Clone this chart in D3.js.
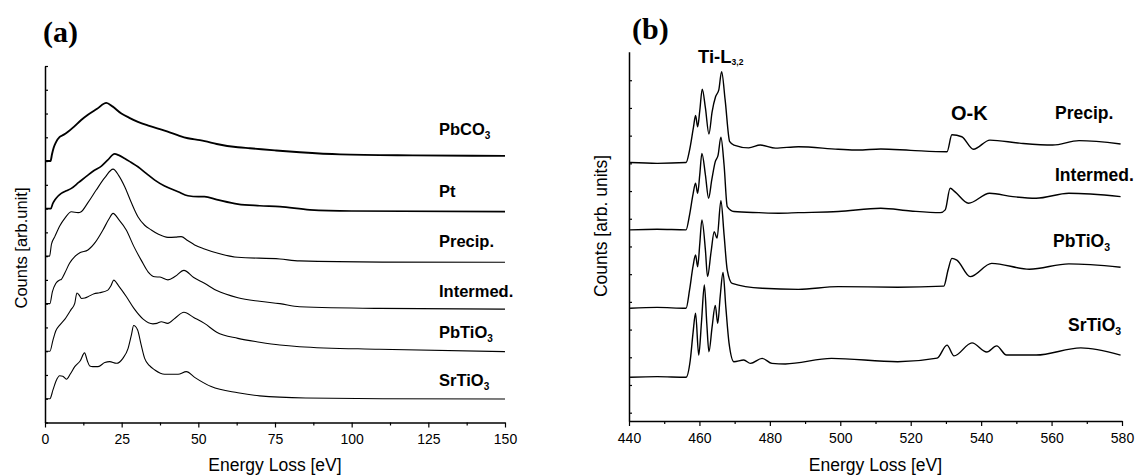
<!DOCTYPE html>
<html>
<head>
<meta charset="utf-8">
<script src="https://cdn.jsdelivr.net/npm/d3@7"></script>
<style>
  body { margin: 0; background: #fff; }
  svg { display: block; }
  text { font-family: "Liberation Sans", Arial, sans-serif; fill: #000; }
</style>
</head>
<body>
<div id="chart"></div>
<script>
// ---- panel (a): low-loss spectra, [energy loss eV, counts (arb., offset)]
const pbco3 = [[0,11.0],[1.8,11.0],[2.3,11.3],[2.8,11.55],[3.6,11.8],[4.8,12.02],[6,12.1],[7.5,12.23],[9.5,12.45],[11.8,12.73],[14,12.95],[17,13.2],[20,13.45],[22,13.3],[24.9,13.0],[27.5,12.82],[30.3,12.65],[34,12.48],[39,12.28],[43,12.1],[46.6,11.96],[50.5,11.88],[52.1,11.84],[56,11.72],[62.9,11.58],[66.8,11.54],[75,11.45],[83.1,11.37],[96.2,11.28],[120,11.24],[150,11.22]];
const pt = [[0,9.0],[1.9,9.0],[2.5,9.2],[3.2,9.36],[4.2,9.52],[5.3,9.64],[7,9.75],[8.6,9.85],[11,10.1],[14,10.41],[16,10.6],[18.4,10.79],[20.5,11.05],[22.7,11.3],[24,11.25],[26,11.11],[28,10.95],[30.3,10.76],[33,10.48],[35.8,10.2],[39,9.95],[43.4,9.71],[46.6,9.54],[50,9.5],[52,9.5],[56,9.38],[62.9,9.19],[70,9.12],[76.6,9.08],[86.4,8.95],[100,8.9],[150,8.87]];
const precip = [[0,7.0],[1.5,7.0],[2.1,7.5],[3.2,7.82],[4.8,8.27],[6.5,8.6],[8.6,8.87],[10.8,8.83],[11.8,8.87],[14,9.25],[16.7,9.78],[19.5,10.3],[22.2,10.66],[24,10.4],[26,9.92],[28,9.3],[30.3,8.66],[32.5,8.3],[34.7,8.1],[37,7.92],[40.1,7.79],[42.5,7.8],[44.4,7.82],[46.5,7.66],[48.8,7.47],[52,7.3],[56.4,7.12],[62.9,6.95],[76.6,6.88],[83,6.8],[110,6.75],[150,6.74]];
const intermed = [[0,5.0],[1.6,5.0],[2.4,5.5],[3.5,5.85],[4.8,6.0],[5.3,6.02],[6.5,6.3],[8,6.7],[9.7,6.98],[11.5,7.15],[14,7.26],[16.5,7.6],[18.9,8.1],[20.8,8.55],[22.2,8.8],[24,8.55],[26.5,8.1],[29,7.4],[31.5,6.8],[33.6,6.34],[35.8,6.13],[37.5,6.12],[40.1,6.0],[42.5,6.15],[45.3,6.4],[48.5,6.1],[52,5.86],[56,5.55],[62.9,5.25],[70,5.1],[76.6,5.0],[83,4.87],[109,4.8],[150,4.77]];
const pbtio3 = [[0,3.0],[1.6,3.0],[2.6,3.47],[3.5,3.85],[4.8,4.1],[6.5,4.35],[8.5,4.75],[9.7,5.01],[10.4,5.45],[11.2,5.35],[11.9,5.22],[13,5.24],[14,5.29],[16,5.42],[17.8,5.46],[20.5,5.57],[21.5,5.75],[22.4,5.99],[24,5.75],[26.5,5.3],[29,4.8],[32,4.35],[35.2,4.15],[36.5,4.17],[37.9,4.24],[40,4.17],[42.5,4.4],[45.3,4.64],[48.5,4.42],[52,4.17],[56,3.8],[62.9,3.54],[70,3.38],[76.6,3.26],[83,3.19],[109,3.08],[150,2.98]];
const srtio3 = [[0,1.0],[1.6,1.0],[2.6,1.37],[3.6,1.75],[4.8,1.97],[5.8,1.95],[7,1.82],[8.3,2.05],[9.7,2.35],[11.5,2.6],[12.9,2.93],[13.8,2.6],[14.6,2.38],[15.6,2.35],[17.3,2.35],[19.5,2.52],[21.1,2.56],[23.3,2.49],[25.4,2.7],[27.1,3.12],[28.2,3.7],[28.9,4.08],[30.2,3.89],[31.3,3.3],[32.5,2.7],[34,2.4],[35.8,2.21],[39,2.03],[43.4,2.03],[46.1,2.14],[48.8,1.9],[54.2,1.51],[62.9,1.25],[70,1.12],[85,1.03],[110,1.0],[150,0.99]];

const seriesA = [pbco3, pt, precip, intermed, pbtio3, srtio3];
const namesA = [["PbCO", "3"], ["Pt", ""], ["Precip.", ""], ["Intermed.", ""], ["PbTiO", "3"], ["SrTiO", "3"]];
const ticksA = [0, 25, 50, 75, 100, 125, 150];
const minorA = [12.5, 37.5, 62.5, 87.5, 112.5, 137.5];

// ---- panel (b): Ti-L3,2 and O-K edges, [energy loss eV, counts (arb., offset)]
const precipB = [[440.3,9.03],[448,9.0],[456.2,9.03],[457.2,9.48],[458.3,10.3],[458.9,10.73],[459.5,10.32],[460.1,10.9],[460.8,11.68],[461.7,11.0],[462.7,10.06],[463.6,10.86],[464.6,11.41],[465.5,11.65],[466.3,12.31],[467.3,11.29],[468.6,9.78],[469.8,9.66],[474,9.56],[477.3,9.66],[481.6,9.55],[488.1,9.6],[499.4,9.51],[505,9.48],[511.5,9.52],[520,9.47],[530.3,9.42],[531.7,10.03],[534.5,9.96],[537.8,9.51],[542.5,9.84],[550.9,9.73],[560.3,9.66],[567.8,9.82],[579.6,9.7]];
const intermedB = [[440.3,6.6],[448,6.62],[456.2,6.6],[457.2,7.14],[458.2,7.9],[458.9,8.28],[459.5,7.92],[460.1,8.6],[460.7,9.36],[461.7,8.58],[462.6,7.74],[463.5,8.4],[464.5,9.06],[465.3,9.3],[466.1,9.94],[467,8.94],[467.9,7.44],[469.8,7.26],[476.9,7.22],[482.5,7.2],[488.1,7.22],[499.4,7.26],[511.5,7.38],[520,7.28],[528.4,7.22],[529.8,7.32],[531.2,8.1],[532.6,7.97],[536.4,7.56],[542.4,7.92],[549,7.8],[555.6,7.74],[564.9,7.92],[579.6,7.8]];
const pbtio3B = [[440.3,3.77],[448,3.8],[456.2,3.77],[457.2,4.43],[458.2,5.3],[458.9,5.69],[459.5,5.27],[460.1,6.1],[460.7,6.96],[461.7,5.87],[462.3,4.91],[463.3,5.8],[464.2,6.53],[465,6.3],[466.1,7.65],[467,6.42],[467.9,5.15],[469.3,4.67],[477.8,4.49],[488.1,4.45],[499.4,4.55],[516.3,4.53],[529.4,4.57],[530.6,5.15],[531.7,5.57],[533.1,5.51],[536.9,4.91],[543,5.39],[553.7,5.18],[564.9,5.37],[579.6,5.25]];
const srtio3B = [[440.3,1.28],[448,1.3],[456.2,1.28],[457.4,1.9],[458.2,2.9],[458.9,3.59],[459.8,2.08],[460.6,3.3],[461.4,4.61],[462.1,3.2],[462.7,2.2],[463.6,3.1],[464.5,3.87],[465.2,3.23],[465.9,4.2],[466.7,5.06],[467.5,3.8],[468.4,2.52],[469.8,1.84],[472.6,1.9],[474.5,1.78],[477.8,1.96],[480.6,1.78],[484.4,1.76],[497.5,1.96],[516.3,1.84],[527.5,1.97],[530.3,2.44],[532.3,2.05],[537.4,2.52],[541.6,2.19],[544.4,2.41],[547.2,2.08],[555.6,2.08],[568.3,2.34],[579.6,2.08]];

const seriesB = [precipB, intermedB, pbtio3B, srtio3B];
const namesB = [["Precip.", ""], ["Intermed.", ""], ["PbTiO", "3"], ["SrTiO", "3"]];
const ticksB = [440, 460, 480, 500, 520, 540, 560, 580];
const minorB = [450, 470, 490, 510, 530, 550, 570];

// ---- layout
const svg = d3.select("#chart").append("svg")
  .attr("width", 1136)
  .attr("height", 476);

const xa = d3.scaleLinear().domain([0, 150]).range([45, 505]);
const ya = d3.scaleLinear().domain([0, 15]).range([422.5, 66]);
const xb = d3.scaleLinear().domain([440, 580]).range([629, 1122]);
const yb = d3.scaleLinear().domain([-0.3, 13.03]).range([421, 51.7]);

function drawAxes(x, y, ticks, minor, yTicks, yLabel, yLabelX) {
  const [y0] = y.range();
  const [x0] = x.range();

  // minor ticks first so the main axis line sits on top
  svg.append("g")
    .attr("transform", `translate(0,${y0})`)
    .call(d3.axisBottom(x).tickValues(minor).tickFormat("").tickSize(3).tickSizeOuter(0))
    .call(g => g.select(".domain").remove());

  const gx = svg.append("g")
    .attr("transform", `translate(0,${y0})`)
    .call(d3.axisBottom(x).tickValues(ticks).tickSize(5).tickSizeOuter(0).tickPadding(7));
  gx.selectAll("text").style("font-size", "14px");

  svg.append("g")
    .attr("transform", `translate(${x0},0)`)
    .call(d3.axisLeft(y).tickValues(yTicks).tickFormat("").tickSize(-3).tickSizeOuter(0));

  svg.selectAll(".domain").attr("stroke-width", 1.5);
  svg.selectAll(".tick line").attr("stroke-width", 1.2);

  svg.append("text")
    .attr("x", (x.range()[0] + x.range()[1]) / 2)
    .attr("y", 471)
    .attr("text-anchor", "middle")
    .style("font-size", "17.5px")
    .text("Energy Loss [eV]");

  svg.append("text")
    .attr("transform", `translate(${yLabelX},${yLabel[1]}) rotate(-90)`)
    .attr("text-anchor", "middle")
    .style("font-size", yLabel[2])
    .text(yLabel[0]);
}

drawAxes(xa, ya, ticksA, minorA, d3.range(0, 16), ["Counts [arb.unit]", 248, "16.5px"], 27);
drawAxes(xb, yb, ticksB, minorB, d3.range(0, 13), ["Counts [arb. units]", 226, "17.5px"], 607);

// spectra
const lineA = d3.line().x(d => xa(d[0])).y(d => ya(d[1])).curve(d3.curveMonotoneX);
const lineB = d3.line().x(d => xb(d[0])).y(d => yb(d[1])).curve(d3.curveMonotoneX);

const widthA = [1.9, 1.7, 1.1, 1.1, 1.1, 1.1];
seriesA.forEach((s, i) => {
  svg.append("path")
    .datum(s)
    .attr("fill", "none")
    .attr("stroke", "#000")
    .attr("stroke-width", widthA[i])
    .attr("stroke-linejoin", "round")
    .attr("d", lineA);
});

seriesB.forEach(s => {
  svg.append("path")
    .datum(s)
    .attr("fill", "none")
    .attr("stroke", "#000")
    .attr("stroke-width", 1.4)
    .attr("stroke-linejoin", "round")
    .attr("d", lineB);
});

// curve names, placed above the right end of each curve
function label(x, y, parts, size, subSize) {
  const t = svg.append("text")
    .attr("x", x)
    .attr("y", y)
    .style("font-size", size)
    .style("font-weight", "bold");
  t.append("tspan").text(parts[0]);
  if (parts[1]) {
    t.append("tspan").attr("dy", 4).style("font-size", subSize).text(parts[1]);
  }
}

const liftA = [20.5, 15, 15, 12.5, 13.5, 13];
seriesA.forEach((s, i) => {
  const last = s[s.length - 1];
  label(439, ya(last[1]) - liftA[i], namesA[i], "16.5px", "10px");
});

const liftB = [25, 16, 20.5, 24];
const labelXB = [1055, 1055, 1053, 1068];
seriesB.forEach((s, i) => {
  const last = s[s.length - 1];
  label(labelXB[i], yb(last[1]) - liftB[i], namesB[i], "17.5px", "10.5px");
});

// edge names
const ti = svg.append("text")
  .attr("x", 698)
  .attr("y", 63)
  .style("font-size", "18.5px")
  .style("font-weight", "bold");
ti.append("tspan").text("Ti-L");
ti.append("tspan").attr("dy", 2).style("font-size", "8.5px").text("3,2");

svg.append("text")
  .attr("x", 951)
  .attr("y", 120)
  .style("font-size", "20px")
  .style("font-weight", "bold")
  .text("O-K");

// panel letters
[["(a)", 43, 42], ["(b)", 632, 39]].forEach(p => {
  svg.append("text")
    .attr("x", p[1])
    .attr("y", p[2])
    .style("font-family", "'Liberation Serif', 'Times New Roman', serif")
    .style("font-size", "30px")
    .style("font-weight", "bold")
    .text(p[0]);
});
</script>
</body>
</html>
